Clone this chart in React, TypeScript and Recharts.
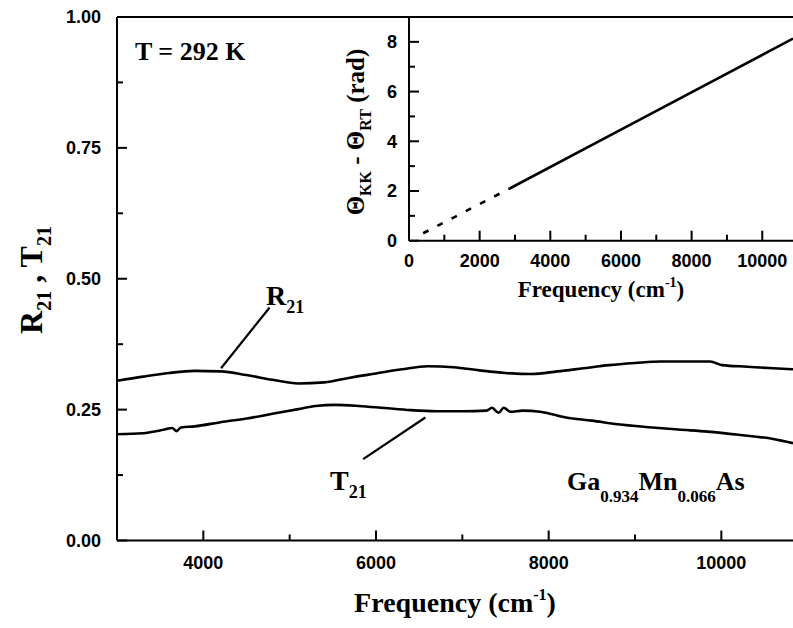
import { LineChart, Line, XAxis, YAxis, ReferenceLine } from 'recharts';

// main panel: R21 and T21 vs frequency (cm-1)
const rFreq = [3000, 3300, 3600, 3900, 4200, 4500, 4800, 5100, 5400, 5700, 6000, 6300, 6600, 6900, 7200, 7500, 7800, 8100, 8400, 8700, 9000, 9300, 9600, 9870, 10010, 10300, 10600, 10830];
const rVals = [0.305, 0.313, 0.320, 0.324, 0.323, 0.316, 0.307, 0.300, 0.302, 0.311, 0.319, 0.327, 0.333, 0.331, 0.325, 0.320, 0.318, 0.323, 0.329, 0.335, 0.339, 0.342, 0.342, 0.342, 0.335, 0.332, 0.329, 0.327];

const tFreq = [3000, 3300, 3550, 3640, 3690, 3740, 3900, 4200, 4500, 4800, 5100, 5300, 5530, 5800, 6100, 6400, 6700, 7000, 7280, 7343, 7420, 7480, 7557, 7700, 7900, 8200, 8500, 8800, 9200, 9500, 9840, 10200, 10600, 10830];
const tVals = [0.203, 0.205, 0.212, 0.215, 0.209, 0.216, 0.218, 0.226, 0.233, 0.242, 0.251, 0.257, 0.259, 0.257, 0.253, 0.249, 0.247, 0.247, 0.248, 0.2535, 0.244, 0.2535, 0.246, 0.248, 0.246, 0.235, 0.229, 0.222, 0.216, 0.212, 0.208, 0.202, 0.194, 0.186];

const xTicks = [4000, 5000, 6000, 7000, 8000, 9000, 10000];
const xLabelled = [4000, 6000, 8000, 10000];
const yTicks = [0, 0.125, 0.25, 0.375, 0.5, 0.625, 0.75, 0.875, 1];
const yLabelled = [0, 0.25, 0.5, 0.75, 1];

// inset: theta_KK - theta_RT (rad)
const dashFreq = [400, 2850];
const dashVals = [0.3, 2.1];
const solidFreq = [2850, 6000, 10870];
const solidVals = [2.1, 4.47, 8.13];

const insetXTicks = [0, 1000, 2000, 3000, 4000, 5000, 6000, 7000, 8000, 9000, 10000];
const insetXLabelled = [0, 2000, 4000, 6000, 8000, 10000];
const insetYTicks = [0, 1, 2, 3, 4, 5, 6, 7, 8];
const insetYLabelled = [0, 2, 4, 6, 8];

const toRows = (xs: number[], ys: number[]) => xs.map((f, i) => ({ f, v: ys[i] }));

const rData = toRows(rFreq, rVals);
const tData = toRows(tFreq, tVals);
const dashData = toRows(dashFreq, dashVals);
const solidData = toRows(solidFreq, solidVals);

const SANS = "'Liberation Sans', Arial, sans-serif";
const SERIF = "'Liberation Serif', 'Times New Roman', serif";

const makeXTick = (labelled: number[], offset: number) => (props: any) => {
  const { x, y, payload } = props;
  const major = labelled.includes(payload.value);
  return (
    <g>
      <line x1={x} x2={x} y1={y} y2={y - (major ? 10 : 6)} stroke="#000" strokeWidth={2} />
      {major && (
        <text x={x} y={y + offset} textAnchor="middle" fontFamily={SANS} fontWeight="bold" fontSize={18} fill="#000">
          {payload.value}
        </text>
      )}
    </g>
  );
};

const makeYTick = (labelled: number[], gap: number, fmt: (v: number) => string) => (props: any) => {
  const { x, y, payload } = props;
  const major = labelled.includes(payload.value);
  return (
    <g>
      <line x1={x} x2={x + (major ? 10 : 6)} y1={y} y2={y} stroke="#000" strokeWidth={2} />
      {major && (
        <text x={x - gap} y={y} dy="0.36em" textAnchor="end" fontFamily={SANS} fontWeight="bold" fontSize={18} fill="#000">
          {fmt(payload.value)}
        </text>
      )}
    </g>
  );
};

export default function App() {
  return (
    <div style={{ position: 'absolute', left: 0, top: 0, width: 793, height: 628, background: '#fff', overflow: 'hidden' }}>
      <div style={{ position: 'absolute', left: 0, top: 0 }}>
        <LineChart width={793} height={628} margin={{ top: 17, right: 0, bottom: 0, left: 0 }}>
          <XAxis
            type="number"
            dataKey="f"
            domain={[3000, 10830]}
            ticks={xTicks}
            interval={0}
            allowDataOverflow
            height={87.5}
            tickSize={0}
            tickMargin={0}
            tickLine={false}
            axisLine={{ stroke: '#000', strokeWidth: 2 }}
            tick={makeXTick(xLabelled, 28)}
          />
          <YAxis
            type="number"
            domain={[0, 1]}
            ticks={yTicks}
            interval={0}
            width={117}
            tickSize={0}
            tickMargin={0}
            tickLine={false}
            axisLine={{ stroke: '#000', strokeWidth: 2 }}
            tick={makeYTick(yLabelled, 16, (v) => v.toFixed(2))}
          />
          <ReferenceLine y={1} stroke="#000" strokeWidth={2} />
          <ReferenceLine segment={[{ x: 4205, y: 0.329 }, { x: 4768, y: 0.445 }]} stroke="#000" strokeWidth={2.2} />
          <ReferenceLine segment={[{ x: 6572, y: 0.235 }, { x: 5851, y: 0.1555 }]} stroke="#000" strokeWidth={2.2} />
          <Line data={rData} dataKey="v" type="monotone" stroke="#000" strokeWidth={2.6} dot={false} isAnimationActive={false} />
          <Line data={tData} dataKey="v" type="monotone" stroke="#000" strokeWidth={2.6} dot={false} isAnimationActive={false} />
        </LineChart>
      </div>

      <div style={{ position: 'absolute', left: 0, top: 0 }}>
        <LineChart width={793} height={310} margin={{ top: 17, right: 0, bottom: 0, left: 0 }}>
          <XAxis
            type="number"
            dataKey="f"
            domain={[0, 10870]}
            ticks={insetXTicks}
            interval={0}
            allowDataOverflow
            height={69.3}
            tickSize={0}
            tickMargin={0}
            tickLine={false}
            axisLine={{ stroke: '#000', strokeWidth: 2 }}
            tick={makeXTick(insetXLabelled, 26)}
          />
          <YAxis
            type="number"
            domain={[0, 9]}
            ticks={insetYTicks}
            interval={0}
            width={409}
            tickSize={0}
            tickMargin={0}
            tickLine={false}
            axisLine={{ stroke: '#000', strokeWidth: 2 }}
            tick={makeYTick(insetYLabelled, 12, (v) => String(v))}
          />
          <Line data={dashData} dataKey="v" type="linear" stroke="#000" strokeWidth={2.6} strokeDasharray="6 10" dot={false} isAnimationActive={false} />
          <Line data={solidData} dataKey="v" type="linear" stroke="#000" strokeWidth={2.6} dot={false} isAnimationActive={false} />
        </LineChart>
      </div>

      <svg width={793} height={628} style={{ position: 'absolute', left: 0, top: 0, pointerEvents: 'none' }}>
        <g fontFamily={SERIF} fontWeight="bold" fill="#000">
          <text x={135} y={60} fontSize={26}>T = 292 K</text>

          <text x={266} y={305} fontSize={28}>
            R<tspan fontSize={18} dy={8}>21</tspan>
          </text>
          <text x={330} y={490} fontSize={28}>
            T<tspan fontSize={18} dy={8}>21</tspan>
          </text>

          <text x={567} y={490} fontSize={26}>
            Ga<tspan fontSize={17} dy={12}>0.934</tspan>
            <tspan dy={-12}>Mn</tspan>
            <tspan fontSize={17} dy={12}>0.066</tspan>
            <tspan dy={-12}>As</tspan>
          </text>

          <text x={455} y={612} fontSize={28} textAnchor="middle">
            Frequency (cm<tspan fontSize={16} dy={-12}>-1</tspan>
            <tspan dy={12}>)</tspan>
          </text>

          <text x={601} y={297} fontSize={23} textAnchor="middle">
            Frequency (cm<tspan fontSize={14} dy={-10}>-1</tspan>
            <tspan dy={10}>)</tspan>
          </text>

          <text x={0} y={0} fontSize={32} textAnchor="middle" transform="translate(42 280) rotate(-90)">
            R<tspan fontSize={20} dy={9}>21</tspan>
            <tspan dy={-9}> , T</tspan>
            <tspan fontSize={20} dy={9}>21</tspan>
          </text>

          <text x={0} y={0} fontSize={25} textAnchor="middle" transform="translate(364 132) rotate(-90)">
            Θ<tspan fontSize={16} dy={7}>KK</tspan>
            <tspan dy={-7}> - Θ</tspan>
            <tspan fontSize={16} dy={7}>RT</tspan>
            <tspan dy={-7}> (rad)</tspan>
          </text>
        </g>
      </svg>
    </div>
  );
}
